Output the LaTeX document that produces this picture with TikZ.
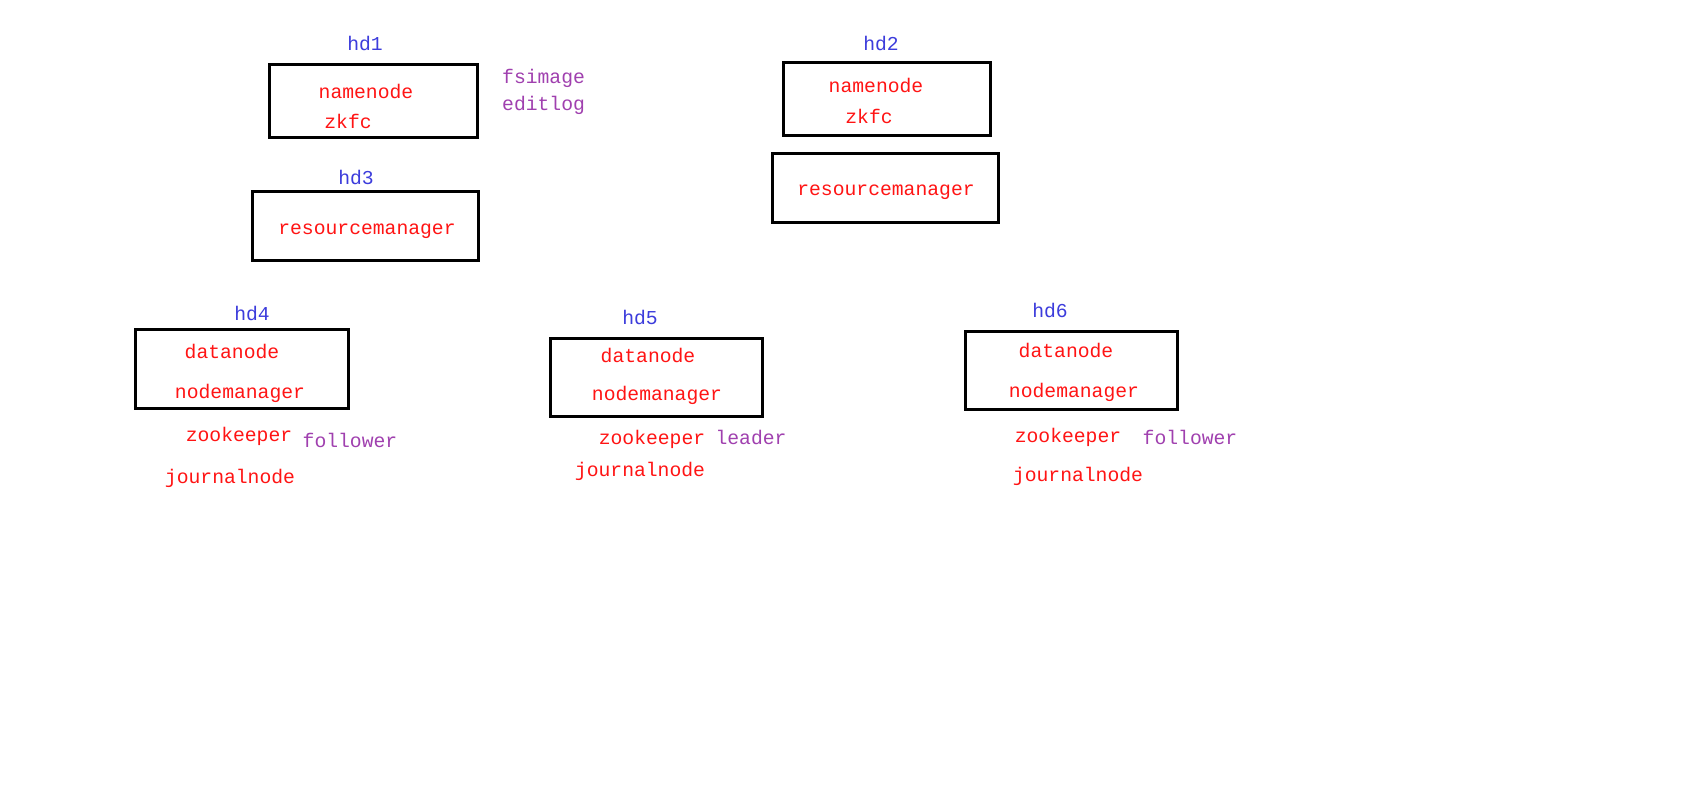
\documentclass[tikz,border=0pt]{standalone}
\usepackage{fontspec}
\setmonofont{Liberation Mono}
\definecolor{hostblue}{RGB}{60,60,220}
\definecolor{txtred}{RGB}{255,20,20}
\definecolor{notepurple}{RGB}{160,64,175}
\begin{document}
\begin{tikzpicture}[x=1pt,y=-1pt,
  every node/.style={font=\ttfamily\fontsize{19.7}{22}\selectfont, inner sep=0pt, text height=0.62em, text depth=0.2em, yshift=-3.5pt},
  host/.style={text=hostblue},
  svc/.style={text=txtred},
  note/.style={text=notepurple},
  hostbox/.style={draw=black, line width=3pt}]
\useasboundingbox[fill=white] (0,0) rectangle (1691,808);
% hd1
\node[host] (h1) at (365,45) {hd1};
\draw[hostbox] (269,65) rectangle (477,137);
\node[svc] (nn1) at (366,93) {namenode};
\node[svc] (zk1) at (348,123) {zkfc};
\node[note,anchor=west] (fs) at (502,78) {fsimage};
\node[note,anchor=west] (el) at (502,105) {editlog};
% hd2
\node[host] (h2) at (881,45) {hd2};
\draw[hostbox] (783,63) rectangle (990,135);
\node[svc] (nn2) at (876,87) {namenode};
\node[svc] (zk2) at (869,118) {zkfc};
\draw[hostbox] (772,153) rectangle (998,222);
\node[svc] (rm2) at (886,190) {resourcemanager};
% hd3
\node[host] (h3) at (356,179) {hd3};
\draw[hostbox] (252,191) rectangle (478,260);
\node[svc] (rm3) at (367,229) {resourcemanager};
% hd4
\node[host] (h4) at (252,315) {hd4};
\draw[hostbox] (135,329) rectangle (348,408);
\node[svc] (dn4) at (232,353) {datanode};
\node[svc] (nm4) at (240,393) {nodemanager};
\node[svc] (zo4) at (239,436) {zookeeper};
\node[note] (f4) at (350,442) {follower};
\node[svc] (jn4) at (230,478) {journalnode};
% hd5
\node[host] (h5) at (640,319) {hd5};
\draw[hostbox] (550,338) rectangle (762,416);
\node[svc] (dn5) at (648,357) {datanode};
\node[svc] (nm5) at (657,395) {nodemanager};
\node[svc] (zo5) at (652,439) {zookeeper};
\node[note] (l5) at (751,439) {leader};
\node[svc] (jn5) at (640,471) {journalnode};
% hd6
\node[host] (h6) at (1050,312) {hd6};
\draw[hostbox] (965,331) rectangle (1177,409);
\node[svc] (dn6) at (1066,352) {datanode};
\node[svc] (nm6) at (1074,392) {nodemanager};
\node[svc] (zo6) at (1068,437) {zookeeper};
\node[note] (f6) at (1190,439) {follower};
\node[svc] (jn6) at (1078,476) {journalnode};
\end{tikzpicture}
\end{document}
